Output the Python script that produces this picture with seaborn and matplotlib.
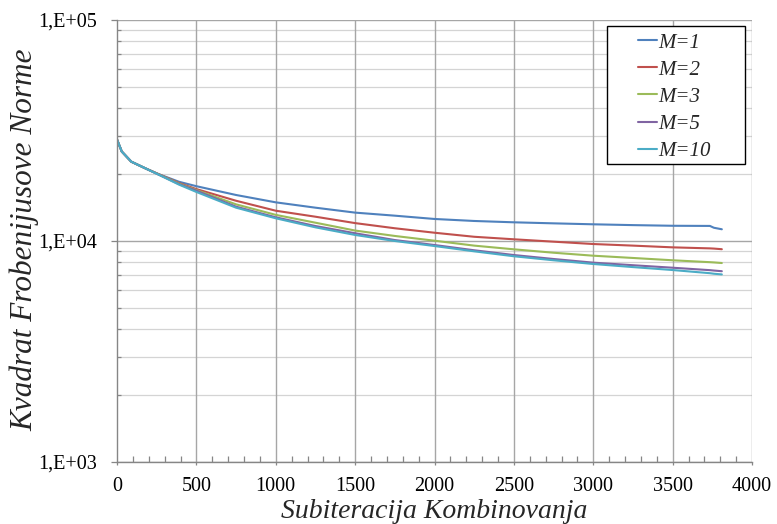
import numpy as np
import pandas as pd
import matplotlib
matplotlib.use("Agg")
import matplotlib.pyplot as plt
import seaborn as sns
from matplotlib.ticker import FixedLocator, NullFormatter
from matplotlib.patches import Rectangle

# ---- data ----
iterations = [0, 30, 90, 180, 260, 390, 500, 750, 1000, 1250, 1500, 1750, 2000,
              2250, 2500, 2750, 3000, 3250, 3500, 3735, 3760, 3810]
m1 = [28800, 25400, 22850, 21300, 20100, 18540, 17700, 16150, 14960, 14150, 13440,
      13020, 12580, 12320, 12150, 12020, 11900, 11800, 11720, 11700, 11480, 11300]
m2 = [28800, 25400, 22850, 21300, 20100, 18300, 17180, 15210, 13710, 12880, 12050,
      11420, 10900, 10450, 10180, 9930, 9690, 9530, 9360, 9260, 9240, 9180]
m3 = [28800, 25400, 22850, 21300, 20050, 18200, 17000, 14650, 13130, 12100, 11150,
      10540, 10030, 9530, 9170, 8850, 8580, 8380, 8180, 8020, 8000, 7950]
m5 = [28800, 25400, 22850, 21300, 20000, 18100, 16900, 14300, 12800, 11690, 10840,
      10100, 9590, 9080, 8640, 8290, 7980, 7770, 7570, 7380, 7350, 7300]
m10 = [28800, 25400, 22850, 21300, 20000, 18000, 16670, 14150, 12670, 11530, 10650,
       10000, 9490, 8980, 8530, 8180, 7870, 7620, 7390, 7150, 7110, 7060]
series_names = ["M=1", "M=2", "M=3", "M=5", "M=10"]
x_ticks = [0, 500, 1000, 1500, 2000, 2500, 3000, 3500, 4000]
y_ticks = [1e3, 1e4, 1e5]
y_tick_labels = ["1,E+03", "1,E+04", "1,E+05"]
x_label = "Subiteracija Kombinovanja"
y_label = "Kvadrat Frobenijusove Norme"

df = pd.concat([
    pd.DataFrame({"x": iterations, "y": vals, "M": name})
    for name, vals in zip(series_names, [m1, m2, m3, m5, m10])
], ignore_index=True)

palette = ["#4F81BD", "#C0504D", "#9BBB59", "#8064A2", "#4BACC6"]

sns.set_theme(style="white")
plt.rcParams["font.family"] = ["Liberation Serif", "DejaVu Serif"]

fig = plt.figure(figsize=(7.77, 5.24), dpi=100)
ax = fig.add_axes([117/777, 1-462/524, 635/777, 442/524])

sns.lineplot(data=df, x="x", y="y", hue="M", palette=palette, ax=ax,
             linewidth=1.5, legend=True, sort=False)

ax.set_yscale("log")
ax.set_xlim(0, 4000)
ax.set_ylim(1e3, 1e5)

# grid
minor_y = [m * 10**k for k in (3, 4) for m in range(2, 10)]
for yv in minor_y:
    ax.axhline(yv, color="#D4D4D4", linewidth=0.9, zorder=0)
for yv in y_ticks:
    ax.axhline(yv, color="#A6A6A6", linewidth=1.0, zorder=0)
for xv in x_ticks[1:]:
    ax.axvline(xv, color="#A6A6A6", linewidth=1.0, zorder=0)

ax.set_xticks(x_ticks)
ax.set_xticklabels([str(v) for v in x_ticks])
ax.xaxis.set_minor_locator(FixedLocator([v for v in range(0, 4001, 100) if v % 500]))
ax.set_yticks(y_ticks)
ax.set_yticklabels(y_tick_labels)
ax.yaxis.set_minor_locator(FixedLocator(minor_y))
ax.yaxis.set_minor_formatter(NullFormatter())

ax.tick_params(axis="x", which="major", direction="out", length=2, width=0.9,
               color="#868686", labelsize=14.5, labelcolor="black", pad=9)
ax.tick_params(axis="y", which="major", direction="out", length=4.3, width=0.9,
               color="#868686", labelsize=14.5, labelcolor="black", pad=10)
ax.tick_params(axis="x", which="minor", direction="in", length=4, width=0.9,
               color="#868686")
ax.tick_params(axis="y", which="minor", direction="in", length=3, width=0.9,
               color="#868686")
ax.tick_params(axis="y", which="both", left=True)
ax.tick_params(axis="x", which="both", bottom=True)

for s in ["top", "right"]:
    ax.spines[s].set_visible(False)
for s in ["left", "bottom"]:
    ax.spines[s].set_color("#868686")
    ax.spines[s].set_linewidth(1.0)

ax.set_xlabel(x_label, fontsize=20, fontstyle="italic", va="center")
ax.xaxis.set_label_coords(0.5, -0.113)
ax.set_ylabel(y_label, fontsize=22.5, fontstyle="italic", va="center")
ax.yaxis.set_label_coords(-0.145, 0.502)

# legend (entries) + Excel-style frame
leg = ax.legend(loc="upper left", bbox_to_anchor=((638-117)/635, (462-33)/442),
                frameon=False, prop={"style": "italic", "size": 15},
                handlelength=0.9, handletextpad=0.05, labelspacing=0.36,
                borderpad=0, borderaxespad=0)
for line in leg.get_lines():
    line.set_linewidth(1.5)
frame = Rectangle(((607-117)/635, (462-164)/442), 138/635, 138/442,
                  transform=ax.transAxes, facecolor="white", edgecolor="black",
                  linewidth=1.0, zorder=4)
ax.add_patch(frame)
leg.set_zorder(5)

fig.savefig("out.png", dpi=100)
